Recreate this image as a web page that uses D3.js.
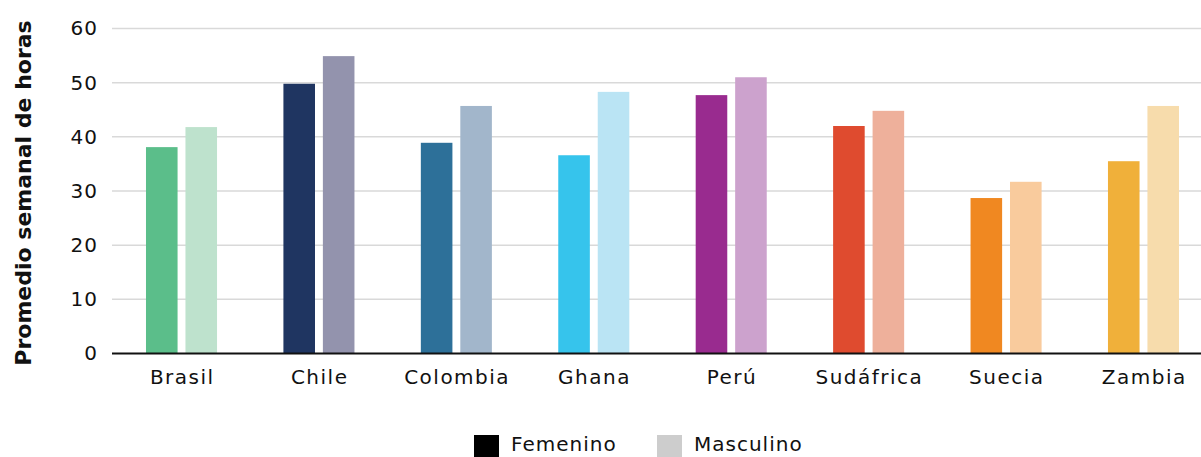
<!DOCTYPE html>
<html><head><meta charset="utf-8">
<script src="https://cdn.jsdelivr.net/npm/d3@7"></script>
<style>body{margin:0;background:#fff;} svg{display:block;font-family:"DejaVu Sans",sans-serif;}</style>
</head><body><svg id="c" width="1201" height="457"></svg>
<script>
const categories = ["Brasil","Chile","Colombia","Ghana","Perú","Sudáfrica","Suecia","Zambia"];
const femenino = [38.1, 49.8, 38.9, 36.6, 47.7, 42.0, 28.7, 35.5];
const masculino = [41.8, 54.9, 45.7, 48.3, 51.0, 44.8, 31.7, 45.7];
const femColors = ["#5BBE8A","#1F3561","#2D7099","#36C4EC","#992B8F","#DF4B2F","#F08821","#F0B03A"];
const mascColors = ["#BEE2CD","#9393AD","#A2B6CB","#BAE4F4","#CCA2CD","#EEB09B","#F9CB9D","#F7DCAC"];
const yTicks = [0,10,20,30,40,50,60];
const seriesNames = ["Femenino","Masculino"];
const legendColors = ["#000000","#CDCDCD"];
const yLabel = "Promedio semanal de horas";

const FONT = "'DejaVu Sans', sans-serif";
const svg = d3.select("#c");
const x0 = d3.scaleBand().domain(categories).range([112.8, 1212.2]).paddingInner(0.483).paddingOuter(0.2415);
const x1 = d3.scaleBand().domain(seriesNames).range([0, x0.bandwidth()]).paddingInner(0.2);
const y = d3.scaleLinear().domain([0,60]).range([353.5, 28.5]);

// gridlines
svg.append("g").selectAll("line").data(yTicks.filter(d=>d>0)).join("line")
  .attr("x1",112).attr("x2",1201).attr("y1",d=>y(d)).attr("y2",d=>y(d))
  .attr("stroke","#d9d9d9").attr("stroke-width",1.5);

// y axis labels
const ya = svg.append("g").attr("transform","translate(112,0)")
  .call(d3.axisLeft(y).tickValues(yTicks).tickSize(0).tickPadding(14));
ya.select(".domain").remove();
ya.selectAll("text").attr("font-size",20).attr("letter-spacing",1).attr("fill","#111").attr("font-family",FONT);

// bars
const g = svg.append("g");
categories.forEach((c,i)=>{
  const vals = [femenino[i], masculino[i]];
  const cols = [femColors[i], mascColors[i]];
  g.selectAll(null).data(seriesNames.map((s,j)=>({s,v:vals[j],col:cols[j]}))).join("rect")
    .attr("x",d=>x0(c)+x1(d.s)).attr("width",x1.bandwidth())
    .attr("y",d=>y(d.v)).attr("height",d=>y(0)-y(d.v)).attr("fill",d=>d.col);
});

// x axis
const xa = svg.append("g").attr("transform","translate(0.75,353.5)")
  .call(d3.axisBottom(x0).tickSize(0).tickPadding(16));
xa.select(".domain").remove();
xa.selectAll("text").attr("font-size",20).attr("letter-spacing",1.5).attr("fill","#111").attr("font-family",FONT);
svg.append("line").attr("x1",112).attr("x2",1201).attr("y1",y(0)).attr("y2",y(0))
  .attr("stroke","#111").attr("stroke-width",2.2);

// y label
svg.append("text").attr("transform","translate(31,193) rotate(-90)")
  .attr("text-anchor","middle").attr("font-size",22).attr("font-weight","bold").attr("fill","#111")
  .attr("font-family","'DejaVu Sans', sans-serif")
  .text(yLabel);

// legend
const lg = svg.append("g");
const lx = [474, 657];
seriesNames.forEach((s,i)=>{
  lg.append("rect").attr("x",lx[i]).attr("y",435).attr("width",25).attr("height",24).attr("fill",legendColors[i]);
  lg.append("text").attr("x",lx[i]+37).attr("y",451).attr("font-size",20).attr("letter-spacing",1)
    .attr("fill","#111").attr("font-family",FONT).text(s);
});
</script></body></html>
